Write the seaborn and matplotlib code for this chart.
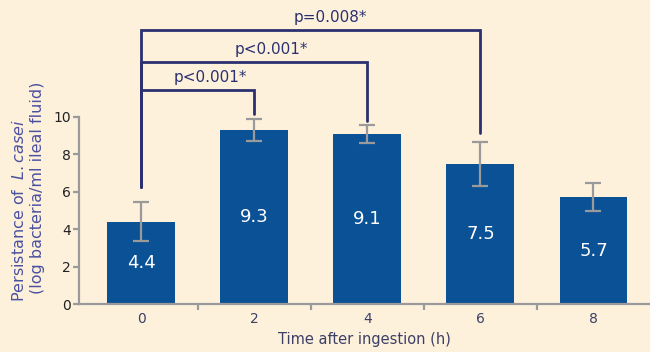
import matplotlib
matplotlib.use("Agg")
import matplotlib.pyplot as plt
from matplotlib.ticker import FixedLocator
import seaborn as sns
import pandas as pd

# Persistence of L. casei in ileal fluid after ingestion
hours = ["0", "2", "4", "6", "8"]
log_counts = [4.4, 9.3, 9.1, 7.5, 5.7]
sd = [1.05, 0.6, 0.49, 1.18, 0.75]

# Significance comparisons against t = 0 h
comparisons = [("0", "2"), ("0", "4"), ("0", "6")]
p_labels = ["p<0.001*", "p<0.001*", "p=0.008*"]
bracket_tops = [11.45, 12.95, 14.65]
bracket_feet = [10.15, 9.8, 9.15]
label_x = [0.61, 1.15, 1.67]
bracket_base = 6.25

BG = "#fdf1dc"
BAR = "#0a5196"
GREY = "#9a9a9a"
NAVY = "#2b3170"
TICK_TXT = "#3c3f66"
LABEL_TXT = "#4b51a0"

sns.set_theme(style="white")
plt.rcParams["font.family"] = ["DejaVu Sans"]
plt.rcParams["mathtext.fontset"] = "dejavusans"

df = pd.DataFrame({"hours": hours, "log_counts": log_counts})

fig = plt.figure(figsize=(6.5, 3.52), dpi=100, facecolor=BG)
ax = fig.add_axes([79 / 650, 48 / 352, 1 - 79 / 650, (304 - 117) / 352])
ax.set_facecolor(BG)

sns.barplot(data=df, x="hours", y="log_counts", color=BAR, width=0.6,
            saturation=1, errorbar=None, linewidth=0, ax=ax, zorder=2)

xpos = list(range(len(hours)))
ax.errorbar(xpos, log_counts, yerr=sd, fmt="none", ecolor=GREY,
            elinewidth=1.6, capsize=6, capthick=1.6, zorder=3)

for x, v in zip(xpos, log_counts):
    ax.text(x, v / 2, f"{v:.1f}", ha="center", va="center",
            color="white", fontsize=13)

# significance brackets
for (a, b), lab, top, foot, lx in zip(comparisons, p_labels, bracket_tops,
                                      bracket_feet, label_x):
    xa, xb = hours.index(a), hours.index(b)
    ax.plot([xa, xa, xb, xb], [bracket_base, top, top, foot], color=NAVY,
            lw=2.0, clip_on=False, solid_joinstyle="miter", zorder=4)
    ax.text(lx, top + 0.68, lab, ha="center", va="center", color=NAVY,
            fontsize=11)

ax.set_xlim(-0.55, 4.5)
ax.set_ylim(0, 10)
ax.set_yticks([0, 2, 4, 6, 8, 10])

for side in ["top", "right"]:
    ax.spines[side].set_visible(False)
for side in ["left", "bottom"]:
    ax.spines[side].set_color(GREY)
    ax.spines[side].set_linewidth(1.6)

ax.xaxis.set_minor_locator(FixedLocator([0.5, 1.5, 2.5, 3.5]))
ax.tick_params(axis="x", which="major", length=0, pad=6, labelsize=10,
               labelcolor=TICK_TXT)
ax.tick_params(axis="x", which="minor", bottom=True, length=4, width=1.6,
               color=GREY, direction="out")
ax.tick_params(axis="y", which="major", left=True, length=4, width=1.6,
               color=GREY, pad=2, labelsize=10, labelcolor="#222222")

ax.set_xlabel("Time after ingestion (h)", fontsize=10.5, color=TICK_TXT,
              labelpad=4)
ax.set_ylabel("")

fig.text(0.030, 1 - 210 / 352, r"Persistance of  $\it{L.casei}$", rotation=90,
         ha="center", va="center", fontsize=11.5, color=LABEL_TXT)
fig.text(0.057, 1 - 188 / 352, "(log bacteria/ml ileal fluid)", rotation=90,
         ha="center", va="center", fontsize=11.5, color=LABEL_TXT)

fig.savefig("out.png", dpi=100, facecolor=BG)
